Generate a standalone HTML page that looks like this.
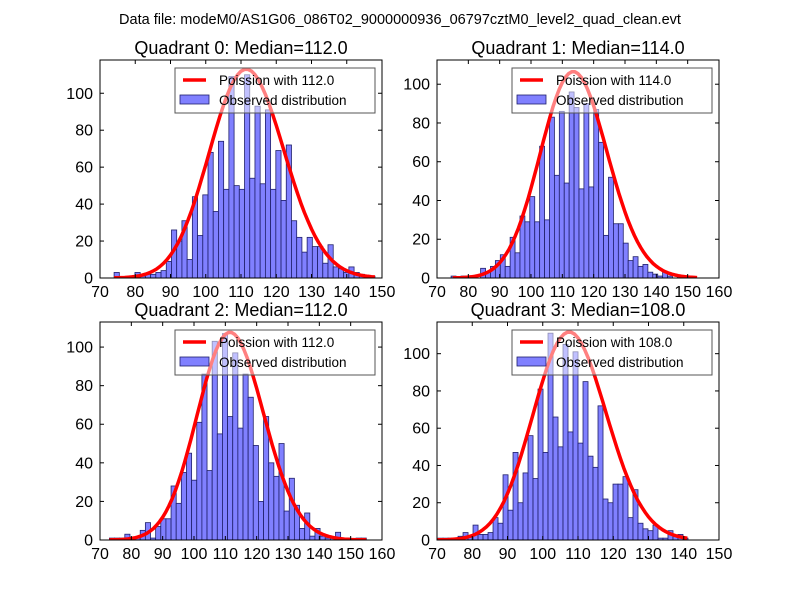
<!DOCTYPE html>
<html><head><meta charset="utf-8"><style>
body{margin:0;background:#fff;}
svg{display:block;font-family:"Liberation Sans","DejaVu Sans",sans-serif;}
</style></head><body>
<svg id="fig" width="800" height="600" viewBox="0 0 800 600">
<rect width="800" height="600" fill="#fff"/>
<text x="400" y="24" text-anchor="middle" font-size="14.5">Data file: modeM0/AS1G06_086T02_9000000936_06797cztM0_level2_quad_clean.evt</text>
</svg>
<script>
// Quadrant 0
const q0Counts=[3,0,0,0,3,1,2,2,3,4,9,26,20,31,10,44,23,45,68,36,74,48,109,50,48,110,54,93,51,91,48,69,42,72,31,22,14,22,17,17,8,18,6,5,3,6,3,2,1,1];
const q0Range=[74,148];
const q0Median=112.0;
const q0Scale=2998;
const q0XTicks=[70,80,90,100,110,120,130,140,150];
const q0YTicks=[0,20,40,60,80,100];
// Quadrant 1
const q1Counts=[1,0,1,0,0,0,5,3,6,9,12,6,21,13,32,29,42,29,68,30,83,53,86,49,96,88,46,90,47,87,70,22,52,28,28,18,9,11,6,7,3,2,1,3,1,0,1,0,1,0];
const q1Range=[74.5,153];
const q1Median=114.0;
const q1Scale=2850;
const q1XTicks=[70,80,90,100,110,120,130,140,150,160];
const q1YTicks=[0,20,40,60,80,100];
// Quadrant 2
const q2Counts=[1,1,1,3,1,1,5,9,1,7,11,11,28,19,35,45,31,61,86,36,103,55,107,64,97,58,86,74,49,20,64,40,33,50,15,32,18,6,14,2,6,2,1,1,4,1,1,0,1,1];
const q2Range=[73,155];
const q2Median=112.0;
const q2Scale=2855;
const q2XTicks=[70,80,90,100,110,120,130,140,150,160];
const q2YTicks=[0,20,40,60,80,100];
// Quadrant 3
const q3Counts=[1,1,1,1,2,4,2,8,3,3,4,12,9,35,16,47,20,36,56,33,81,47,111,66,50,105,58,101,52,85,45,39,72,22,20,30,30,34,12,27,9,6,5,8,1,1,5,2,3,1];
const q3Range=[70.3,141.2];
const q3Median=108.0;
const q3Scale=2907;
const q3XTicks=[70,80,90,100,110,120,130,140,150];
const q3YTicks=[0,20,40,60,80,100];

const NS="http://www.w3.org/2000/svg";
const svg=document.getElementById('fig');
function mk(tag,attrs,parent){const e=document.createElementNS(NS,tag);for(const k in attrs)e.setAttribute(k,attrs[k]);(parent||svg).appendChild(e);return e;}
function lgamma(x){const c=[76.18009172947146,-86.50532032941677,24.01409824083091,-1.231739572450155,0.1208650973866179e-2,-0.5395239384953e-5];let y=x,t=x+5.5;t-=(x+0.5)*Math.log(t);let s=1.000000000190015;for(let j=0;j<6;j++)s+=c[j]/++y;return -t+Math.log(2.5066282746310005*s/x);}
function pois(k,m){return Math.exp(k*Math.log(m)-m-lgamma(k+1));}

function panel(idx,L,R,T,B,xmin,xmax,ymax,counts,range,median,scale,xt,yt){
  const g=mk('g',{});
  
  
  const X=v=>L+(v-xmin)/(xmax-xmin)*(R-L);
  const Y=v=>B-v/ymax*(B-T);
  const t=mk('text',{x:(L+R)/2,y:T-6,'text-anchor':'middle','font-size':'18'},g);
  t.textContent='Quadrant '+idx+': Median='+median.toFixed(1);
  
  
  const clip=mk('clipPath',{id:'c'+idx},g);mk('rect',{x:L,y:T,width:R-L,height:B-T},clip);
  const bg=mk('g',{'clip-path':'url(#c'+idx+')'},g);
  const w=(range[1]-range[0])/counts.length;
  counts.forEach((c,i)=>{
    const x0=X(range[0]+i*w),x1=X(range[0]+(i+1)*w);
    const r=mk('rect',{x:x0,y:Y(c),width:x1-x0,height:B-Y(c),fill:'rgb(128,128,255)',stroke:'#1f1f6b','stroke-width':'0.8'},bg);
    
    
  });
  let pts=[];
  for(let k=Math.round(range[0]);k<=Math.round(range[1]);k++){pts.push(X(k).toFixed(1)+','+Y(scale*pois(k,median)).toFixed(1));}
  const pl=mk('polyline',{points:pts.join(' '),fill:'none',stroke:'#ff0000','stroke-width':'3.5','stroke-linejoin':'round'},bg);
  
  
  mk('rect',{x:L,y:T,width:R-L,height:B-T,fill:'none',stroke:'#000','stroke-width':'1'},g);
  xt.forEach(v=>{
    const x=X(v);
    mk('line',{x1:x,y1:B,x2:x,y2:B-4,stroke:'#000'},g);
    mk('line',{x1:x,y1:T,x2:x,y2:T+4,stroke:'#000'},g);
    const tx=mk('text',{x:x,y:B+19,'text-anchor':'middle','font-size':'16'},g);
    tx.textContent=v;
    
    
  });
  yt.forEach(v=>{
    const y=Y(v);
    mk('line',{x1:L,y1:y,x2:L+4,y2:y,stroke:'#000'},g);
    mk('line',{x1:R,y1:y,x2:R-4,y2:y,stroke:'#000'},g);
    const ty=mk('text',{x:L-7,y:y+5.5,'text-anchor':'end','font-size':'16'},g);
    ty.textContent=v;
    
    
  });
  const lg=mk('g',{},g);
  
  
  const lx=R-207,ly=T+8;
  mk('rect',{x:lx,y:ly,width:200,height:45,fill:'rgba(255,255,255,0.5)',stroke:'#555','stroke-width':'1'},lg);
  mk('line',{x1:lx+8,y1:ly+12,x2:lx+31,y2:ly+12,stroke:'#ff0000','stroke-width':'3.5'},lg);
  const t1=mk('text',{x:lx+44,y:ly+17,'font-size':'13.5'},lg);t1.textContent='Poission with '+median.toFixed(1);
  mk('rect',{x:lx+5,y:ly+27,width:29,height:9,fill:'rgb(128,128,255)',stroke:'#1f1f6b','stroke-width':'0.8'},lg);
  const t2=mk('text',{x:lx+44,y:ly+37,'font-size':'13.5'},lg);t2.textContent='Observed distribution';
}
panel(0,100,382,60,278,70,150,118,q0Counts,q0Range,q0Median,q0Scale,q0XTicks,q0YTicks);
panel(1,437,719,60,278,70,160,112.5,q1Counts,q1Range,q1Median,q1Scale,q1XTicks,q1YTicks);
panel(2,100,382,322,540,70,160,113,q2Counts,q2Range,q2Median,q2Scale,q2XTicks,q2YTicks);
panel(3,437,719,322,540,70,150,117,q3Counts,q3Range,q3Median,q3Scale,q3XTicks,q3YTicks);
</script>
</body></html>
